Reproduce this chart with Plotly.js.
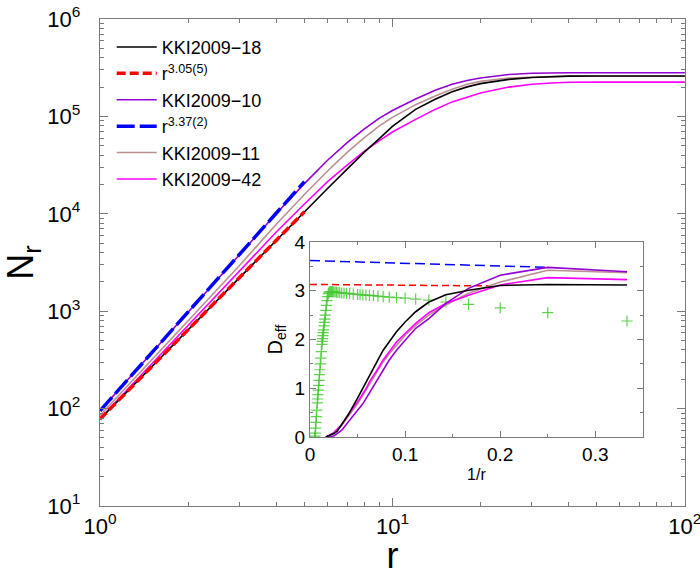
<!DOCTYPE html>
<html><head><meta charset="utf-8">
<script src="https://cdn.plot.ly/plotly-3.0.1.min.js"></script>
<style>html,body{margin:0;padding:0;background:#fff}</style>
</head><body><div id="chart" style="width:700px;height:576px"></div>
<script>
// ---- main panel: N_r vs r ----
const r = [1,2,3,4,5,6,7,8,9,10,12,14,16,18,20,25,30,35,40,50,60,70,80,100];
const nKKI18 = [78,646,2240,5370,10500,18200,28800,42700,58900,79000,118000,150000,179000,201000,217000,240000,251000,257000,259000,260000,260000,260000,260000,260000];
const nKKI10 = [95,977,3800,10000,20400,35500,53700,74100,95500,115000,151000,186000,214000,234000,248000,269000,277000,280000,281000,281000,281000,281000,281000,281000];
const nKKI11 = [85,794,2950,7760,15800,27500,42700,60300,79400,97700,132000,162000,190000,214000,229000,248000,255000,257000,258000,258000,258000,258000,258000,258000];
const nKKI42 = [79,708,2570,6460,12600,21400,31600,43700,56200,69200,93300,118000,141000,158000,174000,200000,214000,220000,224000,225000,225000,225000,225000,225000];
const fitR = [1,5];
const fit305 = [78,10500];
const fit337 = [95,21400];
const names = ['KKI2009\u221218','r<sup>3.05(5)</sup>','KKI2009\u221210','r<sup>3.37(2)</sup>','KKI2009\u221211','KKI2009\u221242'];
const xTickVals = [1,10,100];
const xTickText = ['10<sup>0</sup>','10<sup>1</sup>','10<sup>2</sup>'];
const yTickVals = [10,100,1000,10000,100000,1000000];
const yTickText = ['10<sup>1</sup>','10<sup>2</sup>','10<sup>3</sup>','10<sup>4</sup>','10<sup>5</sup>','10<sup>6</sup>'];

// ---- inset: D_eff vs 1/r ----
const rInset = [3,4,5,6,7,8,9,10,11,12,13,14,15,16,17,18,20,25,30,35,40,50,60];
const dKKI18 = [3.12,3.13,3.11,3.01,2.92,2.77,2.57,2.36,2.16,1.95,1.78,1.58,1.40,1.27,1.10,0.98,0.80,0.45,0.25,0.12,0.07,0.02,0.0];
const dKKI10 = [3.39,3.48,3.32,3.05,2.74,2.43,2.23,1.99,1.78,1.58,1.37,1.20,1.03,0.92,0.79,0.68,0.55,0.31,0.14,0.07,0.02,0.0,0.0];
const dKKI11 = [3.37,3.42,3.18,2.95,2.71,2.50,2.29,2.09,1.88,1.71,1.54,1.37,1.23,1.10,0.96,0.86,0.68,0.41,0.24,0.14,0.08,0.03,0.0];
const dKKI42 = [3.23,3.27,3.12,2.91,2.74,2.55,2.33,2.12,1.95,1.75,1.58,1.40,1.27,1.13,0.99,0.89,0.72,0.45,0.25,0.16,0.09,0.03,0.0];
const rModel = [3,4,5,6,7,8,9,10,11,12,13,14,15,16,17,18,19,20,22,24,26,28,30,32,34,36,38,40,42,44,46,48,50,52,54,56,58,60,62,64,66,68,70,72,74,76,78,80,84,88,92,96,100,105,110,115,120,125,130,140,150,160,170,180,190,200];
const dModel = [2.38,2.55,2.65,2.72,2.77,2.81,2.83,2.85,2.86,2.87,2.88,2.89,2.90,2.905,2.91,2.915,2.92,2.925,2.93,2.94,2.945,2.95,2.955,2.96,2.965,2.97,2.975,2.98,2.98,2.985,2.985,2.98,2.97,2.94,2.88,2.80,2.70,2.60,2.50,2.42,2.35,2.28,2.20,2.14,2.08,2.02,1.96,1.90,1.75,1.62,1.50,1.38,1.28,1.16,1.06,0.96,0.87,0.78,0.70,0.55,0.42,0.30,0.18,0.08,0.02,0.0];
const insetFitX305 = [0,0.19];
const insetFit305 = [3.13,3.10];
const insetFitX337 = [0,0.25];
const insetFit337 = [3.62,3.48];

const inv = a => a.map(v => 1/v);
const C = {black:'#000000', red:'#ff0000', violet:'#9400d3', blue:'#0000ff', brown:'#bc8f8f', magenta:'#ff00ff', green:'rgba(70,200,50,0.85)'};

const traces = [
  {x:r, y:nKKI10, mode:'lines', line:{color:C.violet,width:1.6}, name:names[2], legendrank:3},
  {x:r, y:nKKI11, mode:'lines', line:{color:C.brown,width:1.6}, name:names[4], legendrank:5},
  {x:r, y:nKKI42, mode:'lines', line:{color:C.magenta,width:1.6}, name:names[5], legendrank:6},
  {x:r, y:nKKI18, mode:'lines', line:{color:C.black,width:1.6}, name:names[0], legendrank:1},
  {x:fitR, y:fit305, mode:'lines', line:{color:C.red,width:3.5,dash:'9px,4px'}, name:names[1], legendrank:2},
  {x:fitR, y:fit337, mode:'lines', line:{color:C.blue,width:3.5,dash:'18px,5px'}, name:names[3], legendrank:4},

  {x:inv(rModel), y:dModel, xaxis:'x2', yaxis:'y2', mode:'markers', showlegend:false,
   marker:{symbol:'cross-thin-open', size:8, color:C.green, line:{color:C.green,width:1.2}}},
  {x:insetFitX337, y:insetFit337, xaxis:'x2', yaxis:'y2', mode:'lines', showlegend:false, line:{color:C.blue,width:1.5,dash:'10px,5px'}},
  {x:insetFitX305, y:insetFit305, xaxis:'x2', yaxis:'y2', mode:'lines', showlegend:false, line:{color:C.red,width:1.5,dash:'7px,4px'}},
  {x:inv(rInset), y:dKKI11, xaxis:'x2', yaxis:'y2', mode:'lines', showlegend:false, line:{color:C.brown,width:1.6}},
  {x:inv(rInset), y:dKKI42, xaxis:'x2', yaxis:'y2', mode:'lines', showlegend:false, line:{color:C.magenta,width:1.6}},
  {x:inv(rInset), y:dKKI10, xaxis:'x2', yaxis:'y2', mode:'lines', showlegend:false, line:{color:C.violet,width:1.6}},
  {x:inv(rInset), y:dKKI18, xaxis:'x2', yaxis:'y2', mode:'lines', showlegend:false, line:{color:C.black,width:1.6}}
];

const axCol = '#7a7a7a';
const font = 'Liberation Sans, Arial, sans-serif';
const layout = {
  width:700, height:576,
  margin:{l:100, r:15, t:19, b:70},
  paper_bgcolor:'#fff', plot_bgcolor:'#fff',
  font:{family:font, color:'#000'},
  showlegend:true,
  legend:{x:0.02, y:0.98, xanchor:'left', yanchor:'top', font:{size:18}, bgcolor:'rgba(0,0,0,0)', itemwidth:40, tracegroupgap:0},
  xaxis:{type:'log', range:[0,2.0005], domain:[0,1], tickmode:'array', tickvals:xTickVals, ticktext:xTickText,
    ticks:'inside', ticklen:8, tickcolor:axCol, showline:true, linecolor:axCol, linewidth:1.2, mirror:'ticks',
    showgrid:false, zeroline:false, tickfont:{size:22}, ticklabeloverflow:'allow',
    minor:{dtick:'D1', ticks:'inside', ticklen:4, tickcolor:axCol, showgrid:false},
    title:{text:'r', font:{size:36}, standoff:8}},
  yaxis:{type:'log', range:[0.9998,6.0002], domain:[0,1], tickmode:'array', tickvals:yTickVals, ticktext:yTickText,
    ticks:'inside', ticklen:8, tickcolor:axCol, showline:true, linecolor:axCol, linewidth:1.2, mirror:'ticks',
    showgrid:false, zeroline:false, tickfont:{size:22}, ticklabelstandoff:14, ticklabeloverflow:'allow',
    minor:{dtick:'D1', ticks:'inside', ticklen:4, tickcolor:axCol, showgrid:false},
    title:{text:'N<sub>r</sub>', font:{size:36}, standoff:6}},
  xaxis2:{anchor:'y2', domain:[0.359,0.928], range:[0,0.35], dtick:0.1, tick0:0,
    ticks:'inside', ticklen:6, tickcolor:axCol, showline:true, linecolor:axCol, linewidth:1.2, mirror:'ticks',
    showgrid:false, zeroline:false, tickfont:{size:19},
    minor:{dtick:0.05, ticks:'inside', ticklen:3, tickcolor:axCol, showgrid:false},
    title:{text:'1/r', font:{size:16}, standoff:4}},
  yaxis2:{anchor:'x2', domain:[0.1417,0.542], range:[0,4], dtick:1, tick0:0,
    ticks:'inside', ticklen:6, tickcolor:axCol, showline:true, linecolor:axCol, linewidth:1.2, mirror:'ticks',
    showgrid:false, zeroline:false, tickfont:{size:19},
    minor:{dtick:0.5, ticks:'inside', ticklen:3, tickcolor:axCol, showgrid:false},
    title:{text:'D<sub>eff</sub>', font:{size:20}, standoff:6}}
};
Plotly.newPlot('chart', traces, layout, {displayModeBar:false, staticPlot:true});
</script></body></html>
